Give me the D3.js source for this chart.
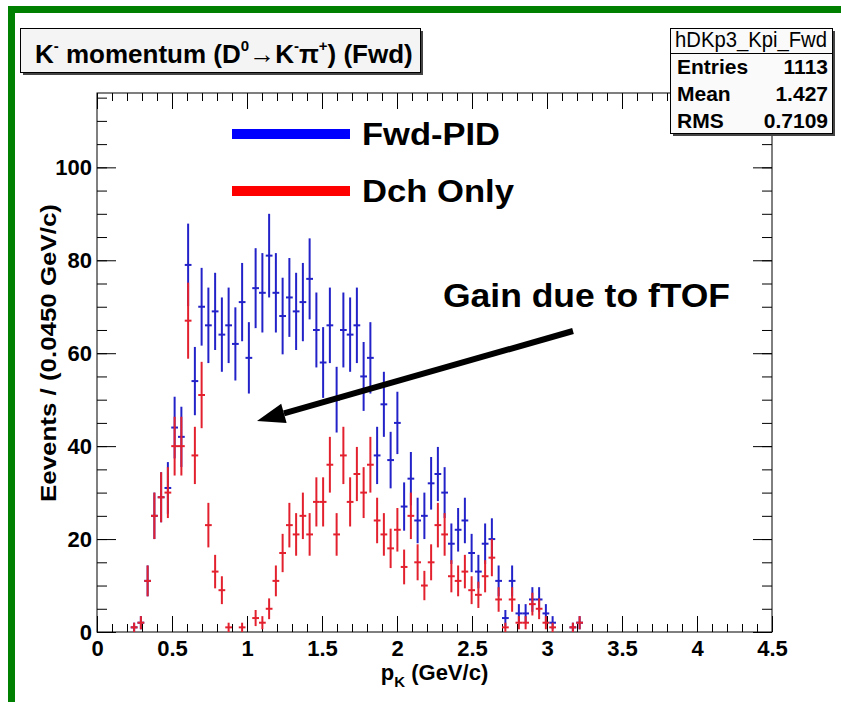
<!DOCTYPE html>
<html>
<head>
<meta charset="utf-8">
<script src="https://cdn.jsdelivr.net/npm/d3@7"></script>
<style>
body { margin: 0; background: #fff; }
svg { display: block; font-family: "Liberation Sans", Arial, Helvetica, sans-serif; }
.axis text { font-size: 22px; font-weight: bold; fill: #000; }
.axis line { stroke: #000; stroke-width: 1; }
</style>
</head>
<body>
<svg id="chart" width="841" height="702"></svg>
<script>

// histogram bins: 0.045 GeV/c wide, counts per bin starting at bin 0
const binWidth = 0.045
const fwdPid = [0,0,0,0,0, 1,2,11,25,29, 31,44,42,79,54, 70,66,69,64,66,
                62,71,59,74,73, 81,73,68,72,69, 71,76,65,58,66, 50,65,64,66,55,
                59,38,49,37,45, 27,33,24,25,32, 34,30,19,22,24, 17,13,19,20,11,
                3,11,4,4,7, 7,4,2,0,0, 1,2]
const dchOnly = [0,0,0,0,0, 1,2,11,25,29, 30,40,40,67,38, 51,23,13,9,1,
                 0,1,0,3,2, 5,11,17,23,21, 25,21,28,28,36, 21,38,28,34,30,
                 36,24,21,18,22, 14,25,15,10,15, 23,21,12,11,13, 9,8,12,16,7,
                 1,7,2,2,6, 5,2,1,0,0, 1,2]

const xMajor = [0, 0.5, 1, 1.5, 2, 2.5, 3, 3.5, 4, 4.5]
const yMajor = [0, 20, 40, 60, 80, 100]
const xDomain = [0, 4.5]
const yDomain = [0, 116]

const statsRows = [["Entries", "1113"], ["Mean", "1.427"], ["RMS", "0.7109"]]
const legendItems = [["Fwd-PID", "#0000ff", 138], ["Dch Only", "#ff0000", 152]]


const svg = d3.select("#chart")
const frame = {left: 97, right: 772, top: 93, bottom: 632}

const x = d3.scaleLinear().domain(xDomain).range([frame.left, frame.right])
const y = d3.scaleLinear().domain(yDomain).range([frame.bottom, frame.top])

// green outer border (right and bottom run off the page)
svg.append("rect")
    .attr("x", 11.5).attr("y", 9.5)
    .attr("width", 1000).attr("height", 1000)
    .attr("fill", "none")
    .attr("stroke", "#008000")
    .attr("stroke-width", 7)

// frame
svg.append("rect")
    .attr("x", frame.left).attr("y", frame.top)
    .attr("width", frame.right - frame.left)
    .attr("height", frame.bottom - frame.top)
    .attr("fill", "none").attr("stroke", "#000").attr("stroke-width", 1)

const minorX = d3.range(0, 45).map(i => i / 10)
const minorY = d3.range(0, 116, 5)

function addAxis(axis, tx, ty) {
    const g = svg.append("g").attr("class", "axis")
        .attr("transform", "translate(" + tx + "," + ty + ")")
        .call(axis)
    g.select(".domain").remove()
    return g
}

// bottom
addAxis(d3.axisBottom(x).tickValues(xMajor).tickSize(-16).tickPadding(8)
    .tickFormat(d3.format("~g")), 0, frame.bottom)
addAxis(d3.axisBottom(x).tickValues(minorX).tickSize(-8).tickFormat(""), 0, frame.bottom)
// top
addAxis(d3.axisTop(x).tickValues(xMajor).tickSize(-16).tickFormat(""), 0, frame.top)
addAxis(d3.axisTop(x).tickValues(minorX).tickSize(-8).tickFormat(""), 0, frame.top)
// left
addAxis(d3.axisLeft(y).tickValues(yMajor).tickSize(-19).tickPadding(5)
    .tickFormat(d3.format("d")), frame.left, 0)
addAxis(d3.axisLeft(y).tickValues(minorY).tickSize(-10).tickFormat(""), frame.left, 0)
// right
addAxis(d3.axisRight(y).tickValues(yMajor).tickSize(-19).tickFormat(""), frame.right, 0)
addAxis(d3.axisRight(y).tickValues(minorY).tickSize(-10).tickFormat(""), frame.right, 0)


// histogram points with sqrt(N) errors, empty bins skipped
function drawHist(counts, color) {
    const pts = counts.map((n, i) => ({n: n, lo: i * binWidth, hi: (i + 1) * binWidth}))
                      .filter(d => d.n > 0)
    const g = svg.append("g").attr("stroke", color).attr("stroke-width", 2)
    g.selectAll("line.err").data(pts).enter().append("line")
        .attr("class", "err")
        .attr("x1", d => x((d.lo + d.hi) / 2)).attr("x2", d => x((d.lo + d.hi) / 2))
        .attr("y1", d => y(d.n - Math.sqrt(d.n))).attr("y2", d => y(d.n + Math.sqrt(d.n)))
    g.selectAll("line.bin").data(pts).enter().append("line")
        .attr("class", "bin")
        .attr("x1", d => x(d.lo)).attr("x2", d => x(d.hi))
        .attr("y1", d => y(d.n)).attr("y2", d => y(d.n))
}

drawHist(fwdPid, "#2222c8")
drawHist(dchOnly, "#e3202e")


// title box
svg.append("rect").attr("x", 23).attr("y", 31).attr("width", 400).attr("height", 44)
    .attr("fill", "#444")
svg.append("rect").attr("x", 20.5).attr("y", 28.5).attr("width", 400).attr("height", 44)
    .attr("fill", "#f4f4f4").attr("stroke", "#000")

const title = svg.append("text")
    .attr("x", 35).attr("y", 63)
    .attr("font-size", 26).attr("font-weight", "bold")
title.append("tspan").text("K")
title.append("tspan").text("-").attr("font-size", 15).attr("dy", -12)
title.append("tspan").text(" momentum (D").attr("dy", 12)
title.append("tspan").text("0").attr("font-size", 15).attr("dy", -12)
title.append("tspan").text("\u2192K").attr("dy", 12)
title.append("tspan").text("-").attr("font-size", 15).attr("dy", -12)
title.append("tspan").text("\u03c0").attr("dy", 12)
title.append("tspan").text("+").attr("font-size", 15).attr("dy", -12)
title.append("tspan").text(") (Fwd)").attr("dy", 12)

// stats box
const stats = {x: 670, y: 28, w: 162, h: 105}
svg.append("rect").attr("x", stats.x + 3).attr("y", stats.y + 3)
    .attr("width", stats.w).attr("height", stats.h).attr("fill", "#444")
svg.append("rect").attr("x", stats.x + 0.5).attr("y", stats.y + 0.5)
    .attr("width", stats.w).attr("height", stats.h)
    .attr("fill", "#fafafa").attr("stroke", "#000")
svg.append("line")
    .attr("x1", stats.x).attr("x2", stats.x + stats.w)
    .attr("y1", stats.y + 25.5).attr("y2", stats.y + 25.5)
    .attr("stroke", "#000")
svg.append("text")
    .attr("x", stats.x + stats.w / 2).attr("y", stats.y + 19)
    .attr("text-anchor", "middle").attr("font-size", 22)
    .attr("textLength", 152).attr("lengthAdjust", "spacingAndGlyphs")
    .text("hDKp3_Kpi_Fwd")
statsRows.forEach((r, i) => {
    const by = stats.y + 46 + i * 27
    svg.append("text").attr("x", stats.x + 7).attr("y", by)
        .attr("font-size", 21).attr("font-weight", "bold").text(r[0])
    svg.append("text").attr("x", stats.x + stats.w - 4).attr("y", by)
        .attr("text-anchor", "end")
        .attr("font-size", 21).attr("font-weight", "bold").text(r[1])
})

// legend
legendItems.forEach((d, i) => {
    const ly = 134 + i * 57
    svg.append("line")
        .attr("x1", 232).attr("x2", 350).attr("y1", ly).attr("y2", ly)
        .attr("stroke", d[1]).attr("stroke-width", 10)
    svg.append("text")
        .attr("x", 362).attr("y", ly + 11)
        .attr("font-size", 32).attr("font-weight", "bold")
        .attr("textLength", d[2]).attr("lengthAdjust", "spacingAndGlyphs")
        .text(d[0])
})

// annotation
svg.append("text")
    .attr("x", 443).attr("y", 307)
    .attr("font-size", 33).attr("font-weight", "bold")
    .attr("textLength", 287).attr("lengthAdjust", "spacingAndGlyphs")
    .text("Gain due to fTOF")

const tail = [573, 331], tip = [257, 421]
const ang = Math.atan2(tip[1] - tail[1], tip[0] - tail[0])
const headLen = 28, headHalf = 10
const base = [tip[0] - headLen * Math.cos(ang), tip[1] - headLen * Math.sin(ang)]
svg.append("line")
    .attr("x1", tail[0]).attr("y1", tail[1])
    .attr("x2", base[0]).attr("y2", base[1])
    .attr("stroke", "#000").attr("stroke-width", 6)
svg.append("polygon")
    .attr("points", [
        tip,
        [base[0] + headHalf * Math.sin(ang), base[1] - headHalf * Math.cos(ang)],
        [base[0] - headHalf * Math.sin(ang), base[1] + headHalf * Math.cos(ang)]
    ].map(p => p.join(",")).join(" "))
    .attr("fill", "#000")

// axis titles
const xt = svg.append("text")
    .attr("x", (frame.left + frame.right) / 2).attr("y", 680)
    .attr("text-anchor", "middle")
    .attr("font-size", 22).attr("font-weight", "bold")
xt.append("tspan").text("p")
xt.append("tspan").text("K").attr("font-size", 15).attr("dy", 7)
xt.append("tspan").text(" (GeV/c)").attr("dy", -7)

svg.append("text")
    .attr("transform", "translate(56,353) rotate(-90)")
    .attr("text-anchor", "middle")
    .attr("font-size", 22).attr("font-weight", "bold")
    .attr("textLength", 298).attr("lengthAdjust", "spacingAndGlyphs")
    .text("Eevents / (0.0450 GeV/c)")

</script>
</body>
</html>
